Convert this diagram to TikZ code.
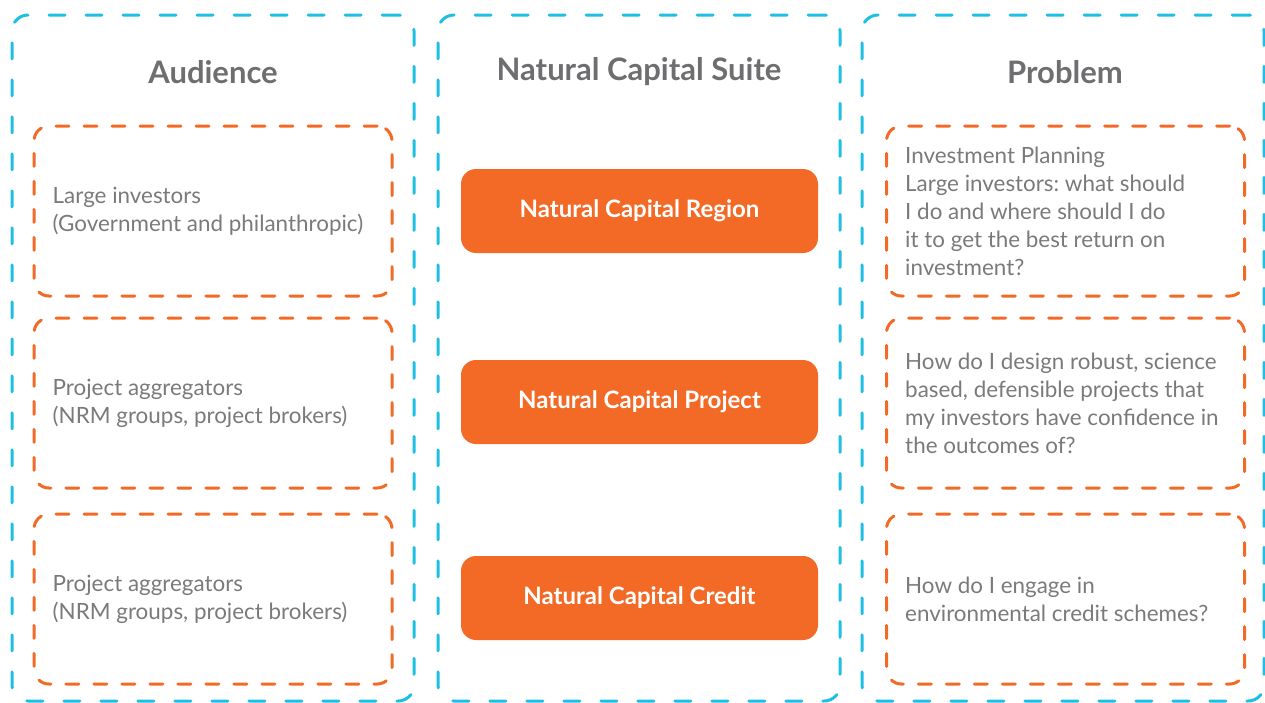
\documentclass[tikz,border=0pt]{standalone}
\usepackage{fontspec}
\setmainfont{Lato}
\frenchspacing
\definecolor{cyanline}{HTML}{1EBFE3}
\definecolor{orangeline}{HTML}{F26A26}
\definecolor{headgray}{HTML}{6E6E70}
\definecolor{bodygray}{HTML}{7A7A7C}
\begin{document}
\begin{tikzpicture}[x=1pt,y=-1pt,
  colbox/.style={draw=cyanline, line width=3pt, rounded corners=16pt,
    dash pattern=on 16pt off 21pt, line cap=round,
    minimum width=402pt, minimum height=686pt, inner sep=0pt},
  itembox/.style={draw=orangeline, line width=3pt, rounded corners=15pt,
    dash pattern=on 13pt off 15pt, line cap=round,
    minimum width=358pt, minimum height=170pt, inner sep=0pt},
  itemtext/.style={anchor=west, inner sep=0pt, align=left, text=bodygray,
    font=\fontsize{22.4}{28}\selectfont},
  suitebtn/.style={fill=orangeline, rounded corners=15pt,
    minimum width=357pt, minimum height=84pt, inner sep=0pt,
    text=white, font=\fontsize{24}{28}\selectfont\bfseries},
  heading/.style={text=headgray, font=\fontsize{31}{36}\selectfont\bfseries}
]
\useasboundingbox (0,0) rectangle (1265,702);

% three column frames
\node[colbox] (audcol) at (213,358) {};
\node[colbox] (suitecol) at (639,358) {};
\node[colbox] (probcol) at (1063,358) {};

% column headings
\node[heading] (audhead) at (213,72) {Audience};
\node[heading] (suitehead) at (639,72) {Natural Capital Suite};
\node[heading] (probhead) at (1065,72) {Problem};

% audience boxes
\node[itembox] (aud1) at (213,211) {};
\node[itembox] (aud2) at (213,403) {};
\node[itembox] (aud3) at (213,599) {};
\node[itemtext] (aud1t) at ([xshift=20pt]aud1.west) {Large investors\\(Government and philanthropic)};
\node[itemtext] (aud2t) at ([xshift=20pt]aud2.west) {Project aggregators\\(NRM groups, project brokers)};
\node[itemtext] (aud3t) at ([xshift=20pt]aud3.west) {Project aggregators\\(NRM groups, project brokers)};

% suite products
\node[suitebtn] (region) at (639.5,211) {Natural Capital Region};
\node[suitebtn] (project) at (639.5,402) {Natural Capital Project};
\node[suitebtn] (credit) at (639.5,598) {Natural Capital Credit};

% problem boxes
\node[itembox] (prob1) at (1065.5,211) {};
\node[itembox] (prob2) at (1065.5,403) {};
\node[itembox] (prob3) at (1065.5,599) {};
\node[itemtext] (prob1t) at ([xshift=20pt]prob1.west) {Investment Planning\\Large investors: what should\\I do and where should I do\\it to get the best return on\\investment?};
\node[itemtext] (prob2t) at ([xshift=20pt]prob2.west) {How do I design robust, science\\based, defensible projects that\\my investors have confidence in\\the outcomes of?};
\node[itemtext] (prob3t) at ([xshift=20pt]prob3.west) {How do I engage in\\environmental credit schemes?};
\end{tikzpicture}
\end{document}
